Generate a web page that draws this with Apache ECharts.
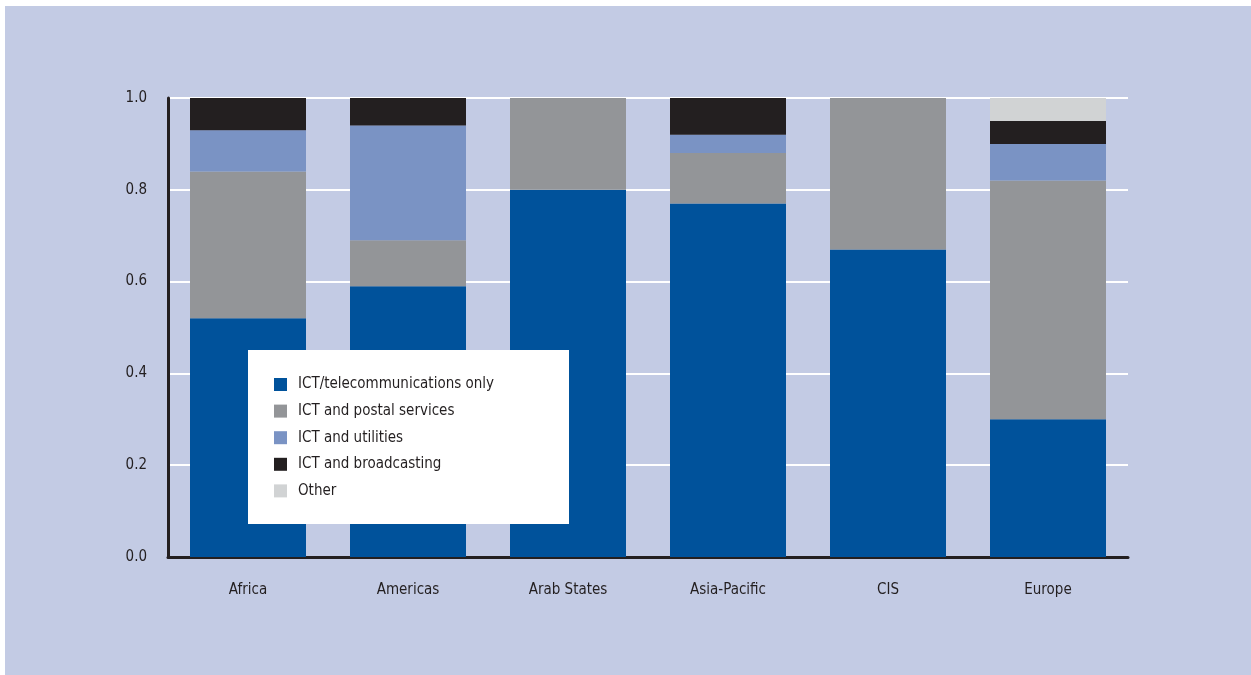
<!DOCTYPE html>
<html>
<head>
<meta charset="utf-8">
<style>
  html, body { margin: 0; padding: 0; background: #ffffff; }
  #chart { width: 1251px; height: 675px; }
</style>
<script src="https://cdn.jsdelivr.net/npm/echarts@6/dist/echarts.min.js"></script>
</head>
<body>
<div id="chart"></div>
<script>
const categories = ['Africa', 'Americas', 'Arab States', 'Asia-Pacific', 'CIS', 'Europe'];
const seriesNames = ['ICT/telecommunications only', 'ICT and postal services', 'ICT and utilities', 'ICT and broadcasting', 'Other'];
const telecomOnly   = [0.52, 0.59, 0.80, 0.77, 0.67, 0.30];
const postal        = [0.32, 0.10, 0.20, 0.11, 0.33, 0.52];
const utilities     = [0.09, 0.25, 0.00, 0.04, 0.00, 0.08];
const broadcasting  = [0.07, 0.06, 0.00, 0.08, 0.00, 0.05];
const other         = [0.00, 0.00, 0.00, 0.00, 0.00, 0.05];
const yTicks = [0, 0.2, 0.4, 0.6, 0.8, 1.0];

const colors = ['#00529b', '#939598', '#7a93c4', '#231f20', '#d1d3d4'];
const seriesData = [telecomOnly, postal, utilities, broadcasting, other];
const FONT = "'Liberation Sans Narrow', 'DejaVu Sans Condensed', 'Liberation Sans', sans-serif";

const chart = echarts.init(document.getElementById('chart'), null, { renderer: 'canvas' });
chart.setOption({
  animation: false,
  color: colors,
  graphic: [
    { type: 'rect', left: 5, top: 6, shape: { width: 1246, height: 669 }, style: { fill: '#c3cbe4' }, z: -10, silent: true },
    { type: 'rect', left: 248, top: 350, shape: { width: 321, height: 174 }, style: { fill: '#ffffff' }, z: 10, silent: true }
  ],
  grid: { left: 168, right: 123, top: 98, bottom: 118 },
  legend: {
    orient: 'vertical',
    left: 274,
    top: 377,
    z: 20,
    itemWidth: 13,
    itemHeight: 13,
    itemGap: 11.6,
    icon: 'rect',
    padding: 0,
    data: seriesNames,
    textStyle: { fontFamily: FONT, fontSize: 15, color: '#231f20', padding: [0, 0, 0, 6] }
  },
  xAxis: {
    type: 'category',
    data: categories,
    axisLine: { lineStyle: { color: '#231f20', width: 3 } },
    axisTick: { show: false },
    axisLabel: { fontFamily: FONT, fontSize: 15, color: '#231f20', margin: 26 }
  },
  yAxis: {
    type: 'value',
    min: 0,
    max: 1,
    interval: 0.2,
    axisLine: { show: true, lineStyle: { color: '#231f20', width: 3 } },
    axisTick: { show: false },
    splitLine: { lineStyle: { color: '#ffffff', width: 2 } },
    axisLabel: {
      fontFamily: FONT, fontSize: 15, color: '#231f20', margin: 21,
      formatter: v => { const t = yTicks.find(x => Math.abs(x - v) < 1e-9); return (t !== undefined ? t : v).toFixed(1); }
    }
  },
  series: seriesNames.map((name, i) => ({
    name,
    type: 'bar',
    stack: 'total',
    barWidth: 116,
    data: seriesData[i],
    itemStyle: { color: colors[i] }
  }))
});
</script>
</body>
</html>
